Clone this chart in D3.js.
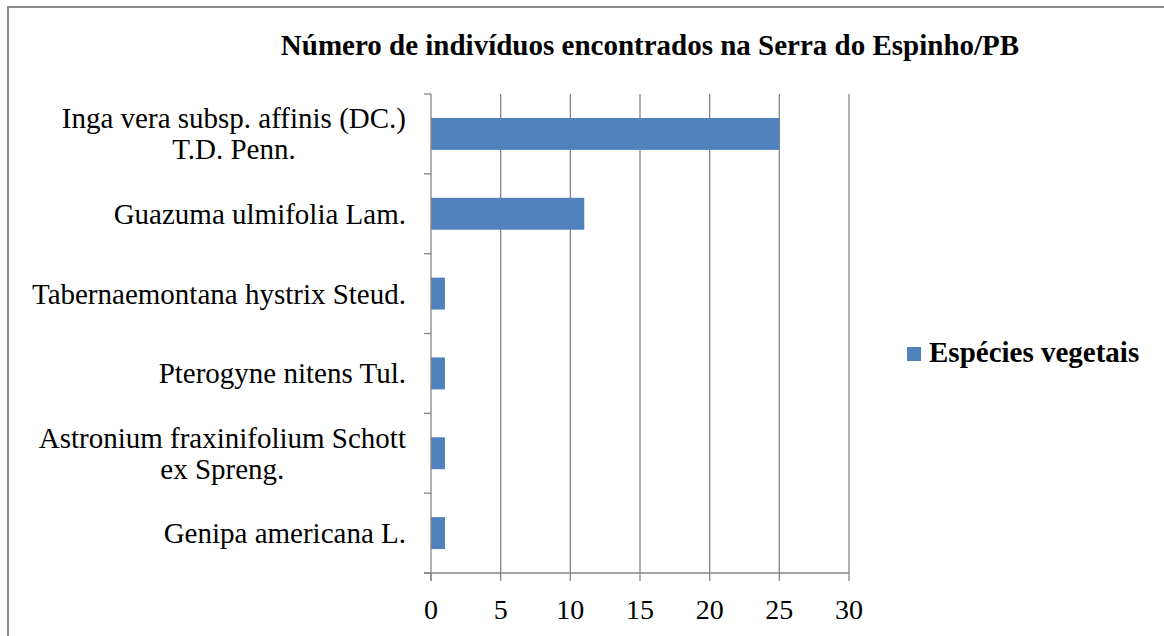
<!DOCTYPE html>
<html><head><meta charset="utf-8">
<script src="https://cdn.jsdelivr.net/npm/d3@7"></script>
<style>body{margin:0;background:#fff}svg{display:block}</style>
</head><body>
<svg id="c" width="1164" height="636"></svg>
<script>
const categories = [
  ["Inga vera subsp. affinis (DC.)", "T.D. Penn."],
  ["Guazuma ulmifolia Lam."],
  ["Tabernaemontana hystrix Steud."],
  ["Pterogyne nitens Tul."],
  ["Astronium fraxinifolium Schott", "ex Spreng."],
  ["Genipa americana L."]
];
const values = [25, 11, 1, 1, 1, 1];
const xTicks = [0, 5, 10, 15, 20, 25, 30];
const title = "Número de indivíduos encontrados na Serra do Espinho/PB";
const seriesName = "Espécies vegetais";

(function () {
const svg = d3.select("#c");
const font = "'Liberation Serif','Times New Roman',serif";
const grid = "#868686";
const barColor = "#4F81BD";

svg.append("rect").attr("x", 8).attr("y", 7).attr("width", 1170).attr("height", 640)
  .attr("fill", "none").attr("stroke", "#8c8c8c").attr("stroke-width", 2);

const pLeft = 431, pRight = 849, pTop = 94, pBottom = 573;
const keys = categories.map((c, i) => i);
const x = d3.scaleLinear().domain([0, 30]).range([pLeft, pRight]);
const y = d3.scaleBand().domain(keys).range([pTop, pBottom]).paddingInner(0.6).paddingOuter(0.3);
const yb = d3.scaleBand().domain(keys).range([pTop, pBottom]);

svg.append("g").selectAll("line").data(xTicks.filter(t => t > 0)).join("line")
  .attr("x1", d => x(d)).attr("x2", d => x(d)).attr("y1", pTop).attr("y2", pBottom)
  .attr("stroke", grid).attr("stroke-width", 1.3);

svg.append("g").selectAll("rect").data(values).join("rect")
  .attr("x", x(0)).attr("y", (d, i) => y(i)).attr("width", d => x(d) - x(0))
  .attr("height", y.bandwidth()).attr("fill", barColor);

svg.append("line").attr("x1", pLeft).attr("x2", pLeft).attr("y1", pTop).attr("y2", pBottom + 8)
  .attr("stroke", grid).attr("stroke-width", 1.3);
const bounds = keys.map(i => yb(i)).concat([pBottom]);
svg.append("g").selectAll("line").data(bounds).join("line")
  .attr("x1", pLeft - 7).attr("x2", pLeft).attr("y1", d => d).attr("y2", d => d)
  .attr("stroke", grid).attr("stroke-width", 1.3);

svg.append("line").attr("x1", pLeft - 7).attr("x2", pRight).attr("y1", pBottom).attr("y2", pBottom)
  .attr("stroke", grid).attr("stroke-width", 1.3);
svg.append("g").selectAll("line").data(xTicks).join("line")
  .attr("x1", d => x(d)).attr("x2", d => x(d)).attr("y1", pBottom).attr("y2", pBottom + 8)
  .attr("stroke", grid).attr("stroke-width", 1.3);
svg.append("g").selectAll("text").data(xTicks).join("text")
  .attr("x", d => x(d)).attr("y", 619).attr("text-anchor", "middle")
  .attr("font-family", font).attr("font-size", 28).attr("fill", "#000").text(d => d);

const labelRight = 406, lineH = 31;
categories.forEach((lines, i) => {
  const g = svg.append("g");
  const cy = yb(i) + yb.bandwidth() / 2;
  const texts = lines.map((ln, j) => g.append("text")
    .attr("font-family", font).attr("font-size", 29).attr("fill", "#000")
    .attr("text-anchor", "middle")
    .attr("y", cy + (j - (lines.length - 1) / 2) * lineH + 10).text(ln));
  const maxW = d3.max(texts, t => t.node().getComputedTextLength());
  texts.forEach(t => t.attr("x", labelRight - maxW / 2));
});

svg.append("text").attr("x", 650).attr("y", 55).attr("text-anchor", "middle")
  .attr("font-family", font).attr("font-size", 29).attr("font-weight", "bold").text(title);

svg.append("rect").attr("x", 907).attr("y", 347).attr("width", 14).attr("height", 14).attr("fill", barColor);
svg.append("text").attr("x", 929).attr("y", 362).attr("font-family", font).attr("font-size", 29)
  .attr("font-weight", "bold").text(seriesName);
})();
</script>
</body></html>
